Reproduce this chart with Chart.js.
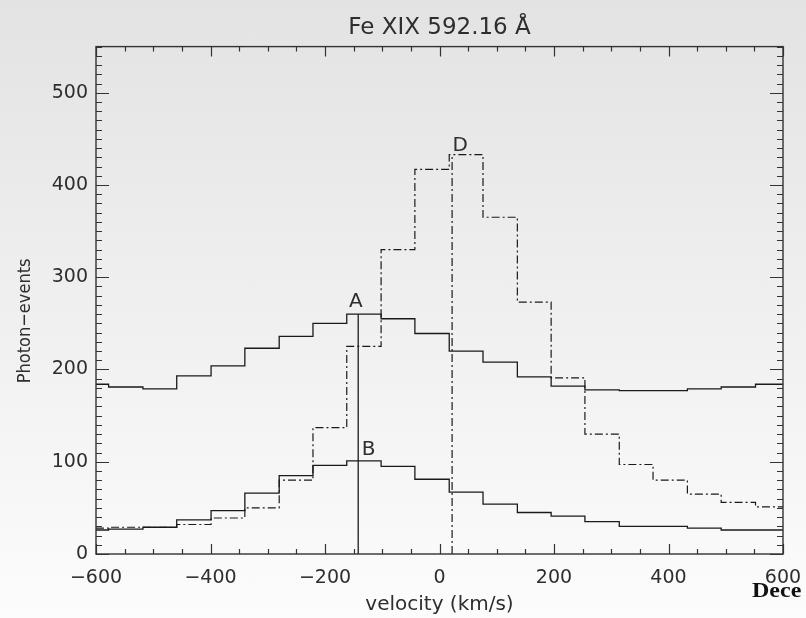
<!DOCTYPE html>
<html>
<head>
<meta charset="utf-8">
<script src="https://cdn.jsdelivr.net/npm/chart.js@4"></script>
<style>
  html, body { margin: 0; padding: 0; }
  body {
    width: 806px; height: 618px; overflow: hidden; position: relative;
    background: linear-gradient(#e3e3e3, #fcfcfc);
  }
  #chart { position: absolute; left: 0; top: 0; }
  #stamp {
    position: absolute; left: 752px; top: 579px; line-height: 20px;
    font: bold 20px "Liberation Serif", "Times New Roman", serif; color: #111;
    transform: scaleX(1.2); transform-origin: left top; white-space: nowrap;
  }
</style>
</head>
<body>
<canvas id="chart" width="806" height="618"></canvas>
<div id="stamp">Dece</div>
<script>
// bin edges in km/s, one more than the number of counts
const binEdges = [-600, -578, -518, -459, -399, -340, -280, -221, -162, -102, -43,
                  17, 76, 136, 195, 254, 314, 373, 433, 492, 552, 600];
const countsA = [184, 181, 179, 193, 204, 223, 236, 250, 260, 255, 239,
                 220, 208, 192, 182, 178, 177, 177, 179, 181, 184];
const countsB = [26, 27, 29, 37, 47, 66, 85, 96, 101, 95, 81,
                 67, 54, 45, 41, 35, 30, 30, 28, 26, 26];
const countsD = [28, 29, 29, 32, 39, 50, 80, 137, 225, 330, 417,
                 433, 365, 273, 191, 130, 97, 80, 65, 56, 51];

// centroid markers (velocity, height) : solid for A/B, dash-dot for D
const markVelocity = [-142, 22];
const markHeight = [260, 433];

// letters written on the plot, in data units
const labelText = ['A', 'B', 'D'];
const labelX = [-146, -124, 36];
const labelY = [273, 113, 443];

const FONT = 'DejaVu Sans';
const INK = '#1a1a1a';
const TEXT = '#2e2e2e';
const DASHDOT = [8, 3, 2, 3];

function steps(counts) {
  const pts = counts.map((c, i) => ({ x: binEdges[i], y: c }));
  pts.push({ x: binEdges[binEdges.length - 1], y: counts[counts.length - 1] });
  return pts;
}

function marker(i) {
  return [{ x: markVelocity[i], y: 0 }, { x: markVelocity[i], y: markHeight[i] }];
}

// IDL style frame: box plus inward tick marks on all four sides, and the A/B/D letters
const frameAndLabels = {
  id: 'frameAndLabels',
  afterDatasetsDraw(chart) {
    const { ctx, chartArea: a, scales: { x, y } } = chart;
    ctx.save();
    ctx.strokeStyle = '#333';
    ctx.lineWidth = 1.4;
    ctx.strokeRect(a.left, a.top, a.right - a.left, a.bottom - a.top);
    ctx.lineWidth = 1.2;
    ctx.beginPath();
    for (let v = x.min; v <= x.max; v += 50) {
      const px = Math.round(x.getPixelForValue(v)) + 0.5;
      const len = v % 200 === 0 ? 10 : 5;
      ctx.moveTo(px, a.bottom); ctx.lineTo(px, a.bottom - len);
      ctx.moveTo(px, a.top); ctx.lineTo(px, a.top + len);
    }
    for (let v = y.min; v <= y.max; v += 10) {
      const py = Math.round(y.getPixelForValue(v)) + 0.5;
      const len = v % 100 === 0 ? 13 : 6;
      ctx.moveTo(a.left, py); ctx.lineTo(a.left + len, py);
      ctx.moveTo(a.right, py); ctx.lineTo(a.right - len, py);
    }
    ctx.stroke();

    ctx.fillStyle = TEXT;
    ctx.font = '20px "' + FONT + '"';
    ctx.textAlign = 'center';
    ctx.textBaseline = 'middle';
    labelText.forEach((t, i) => {
      ctx.fillText(t, x.getPixelForValue(labelX[i]), y.getPixelForValue(labelY[i]));
    });
    ctx.restore();
  }
};

const lineStyle = { borderColor: INK, borderWidth: 1.3, pointRadius: 0, fill: false };

new Chart(document.getElementById('chart'), {
  type: 'line',
  data: {
    datasets: [
      { ...lineStyle, label: 'A', data: steps(countsA), stepped: true },
      { ...lineStyle, label: 'B', data: steps(countsB), stepped: true },
      { ...lineStyle, label: 'D', data: steps(countsD), stepped: true, borderDash: DASHDOT, borderWidth: 1.2 },
      { ...lineStyle, label: 'A/B centroid', data: marker(0) },
      { ...lineStyle, label: 'D centroid', data: marker(1), borderDash: DASHDOT, borderWidth: 1.2 }
    ]
  },
  options: {
    responsive: false,
    animation: false,
    layout: { padding: { left: 0, right: 23, top: 0, bottom: 0 } },
    plugins: {
      legend: { display: false },
      tooltip: { enabled: false },
      title: {
        display: true,
        text: 'Fe XIX 592.16 Å',
        color: TEXT,
        fullSize: false,
        font: { family: FONT, size: 23, weight: 'normal' },
        padding: { top: 14, bottom: 5 }
      }
    },
    scales: {
      x: {
        type: 'linear',
        min: -600,
        max: 600,
        grid: { display: false, drawTicks: false },
        border: { display: false },
        ticks: {
          stepSize: 200,
          maxRotation: 0,
          padding: 13,
          color: TEXT,
          font: { family: FONT, size: 19 },
          callback: v => String(v).replace('-', '\u2212')
        },
        title: {
          display: true,
          text: 'velocity (km/s)',
          color: TEXT,
          font: { family: FONT, size: 20 },
          padding: { top: 0, bottom: 1 }
        },
        afterFit: s => { s.height = 64; s.paddingLeft = 0; s.paddingRight = 0; }
      },
      y: {
        type: 'linear',
        min: 0,
        max: 550,
        grid: { display: false, drawTicks: false },
        border: { display: false },
        ticks: {
          stepSize: 100,
          padding: 8,
          color: TEXT,
          font: { family: FONT, size: 19 }
        },
        afterBuildTicks: s => { s.ticks = s.ticks.filter(t => t.value % 100 === 0); },
        title: {
          display: true,
          text: 'Photon\u2212events' + '\u00a0'.repeat(8),
          color: TEXT,
          font: { family: 'DejaVu Sans Condensed, DejaVu Sans', size: 18 },
          padding: { top: 15, bottom: 0 }
        },
        afterFit: s => { s.width = 96; s.paddingTop = 0; s.paddingBottom = 0; }
      }
    }
  },
  plugins: [frameAndLabels]
});
</script>
</body>
</html>
